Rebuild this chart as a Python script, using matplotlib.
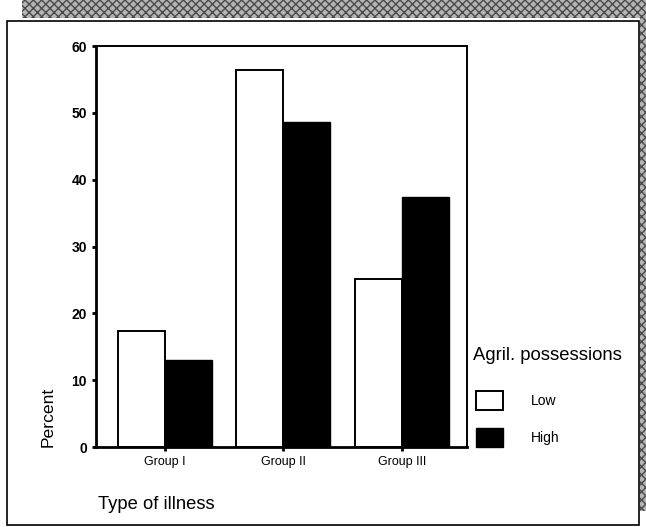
import matplotlib.pyplot as plt
from matplotlib.patches import Rectangle

plt.rcParams["font.family"] = ["Liberation Sans", "DejaVu Sans"]

groups = ["Group I", "Group II", "Group III"]
low = [17.4, 56.4, 25.1]
high = [13.0, 48.6, 37.4]
series_names = ["Low", "High"]
yticks = [0, 10, 20, 30, 40, 50, 60]

fig = plt.figure(figsize=(6.46, 5.27), dpi=100)

# page frame: grey band along top and right, thin box around the chart
band_kw = dict(transform=fig.transFigure, facecolor="#b4b4b4", edgecolor="#4a4a4a",
               hatch="xxxx", linewidth=0, zorder=0)
fig.patches.append(Rectangle((0.034, 0.966), 0.966, 0.034, **band_kw))
fig.patches.append(Rectangle((0.991, 0.03), 0.009, 0.97, **band_kw))
fig.patches.append(Rectangle((0.011, 0.004), 0.978, 0.956, transform=fig.transFigure,
                             facecolor="white", edgecolor="black", linewidth=1.2, zorder=1))

ax = fig.add_axes([0.1486, 0.1518, 0.5743, 0.7609])
ax.set_zorder(2)
ax.patch.set_alpha(0)

x = range(len(groups))
w = 0.397
ax.bar([i - w / 2 for i in x], low, width=w, color="white", edgecolor="black",
       linewidth=1.4, label=series_names[0])
ax.bar([i + w / 2 for i in x], high, width=w, color="black", edgecolor="black",
       linewidth=1.0, label=series_names[1])

ax.set_xlim(-0.582, 2.549)
ax.set_ylim(0, 60)
ax.set_yticks(yticks)
ax.set_xticks(list(x))
ax.set_xticklabels(groups, fontsize=9)
for lbl in ax.get_yticklabels():
    lbl.set_fontsize(10)
    lbl.set_fontweight("bold")
ax.tick_params(axis="both", length=3, width=2, direction="out", pad=3.5)

for side in ("left", "bottom"):
    ax.spines[side].set_linewidth(2.0)
for side in ("top", "right"):
    ax.spines[side].set_linewidth(1.4)

fig.text(0.074, 0.209, "Percent", rotation=90, fontsize=12.6, ha="center", va="center")
fig.text(0.152, 0.042, "Type of illness", fontsize=13.2, ha="left", va="center")

# legend title set apart from the entries
fig.text(0.732, 0.326, "Agril. possessions", fontsize=13.3, ha="left", va="center")
ax.legend(loc="upper left", bbox_to_anchor=(0.995, 0.168), frameon=False,
          fontsize=10, handlelength=1.95, handleheight=1.73, labelspacing=1.3,
          handletextpad=2.0, borderpad=0.3)

fig.savefig("out.png", dpi=100)
